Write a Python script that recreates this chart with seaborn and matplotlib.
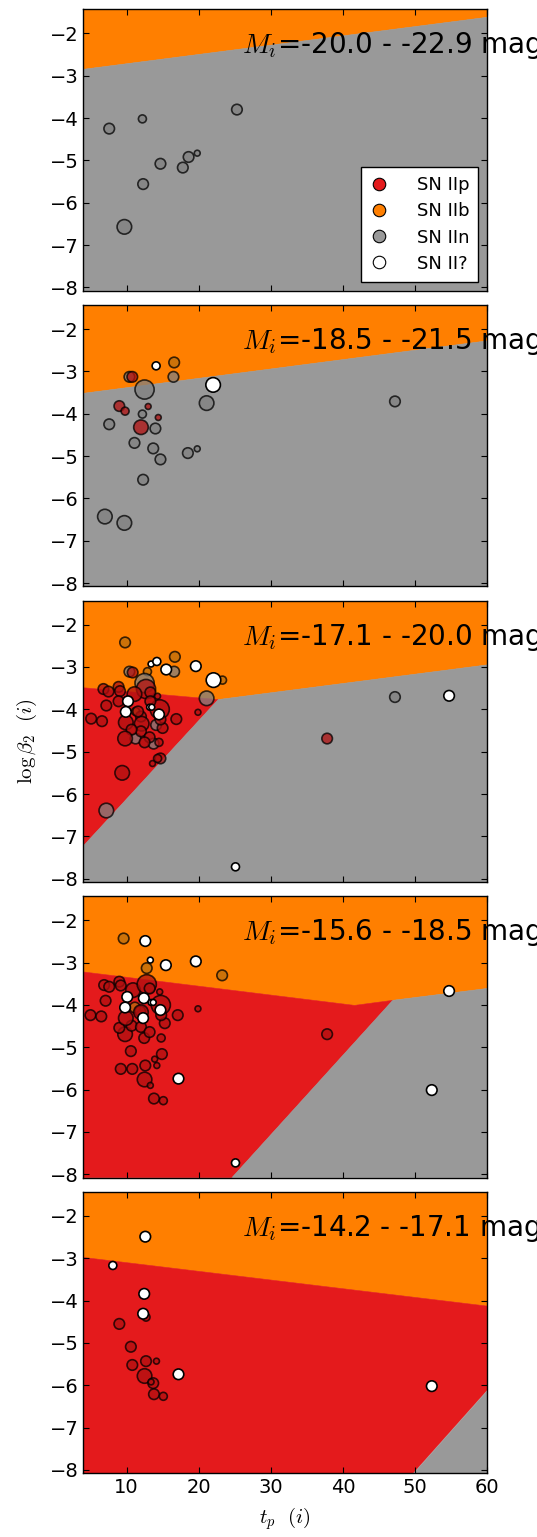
import pandas as pd
from matplotlib import pyplot as plt
from matplotlib.lines import Line2D
import seaborn as sns

# magnitude bins of the five panels
mag_bins = ['-20.0 - -22.9', '-18.5 - -21.5', '-17.1 - -20.0', '-15.6 - -18.5', '-14.2 - -17.1']

# class codes: p = SN IIp, b = SN IIb, n = SN IIn, q = SN II?
# size codes: xs, s, m, l, xl
p1_tp = [7.6, 12.2, 25.3, 9.7, 14.7, 17.8, 18.6, 19.8, 12.3]
p1_logb = [-4.25, -4.02, -3.80, -6.57, -5.08, -5.17, -4.92, -4.83, -5.56]
p1_kind = ['n', 'n', 'n', 'n', 'n', 'n', 'n', 'n', 'n']
p1_size = ['m', 's', 'm', 'l', 'm', 'm', 'm', 'xs', 'm']

p2_tp = [16.6, 16.5, 10.4, 10.8, 12.5, 21.1, 47.2, 9.0, 9.8, 13.0, 12.2, 14.4, 12.0, 14.0,
         7.6, 11.1, 13.7, 14.7, 18.5, 19.8, 12.3, 7.0, 9.7, 14.1, 22.0]
p2_logb = [-2.79, -3.13, -3.13, -3.13, -3.43, -3.75, -3.71, -3.82, -3.94, -3.83, -4.01, -4.09, -4.32, -4.35,
           -4.25, -4.69, -4.82, -5.08, -4.93, -4.83, -5.56, -6.43, -6.58, -2.87, -3.32]
p2_kind = ['b', 'n', 'n', 'p', 'n', 'n', 'n', 'p', 'p', 'p', 'n', 'p', 'p', 'n',
           'n', 'n', 'n', 'n', 'n', 'n', 'n', 'n', 'n', 'q', 'q']
p2_size = ['m', 'm', 'm', 'm', 'xl', 'l', 'm', 'm', 's', 'xs', 's', 'xs', 'l', 'm',
           'm', 'm', 'm', 'm', 'm', 'xs', 'm', 'l', 'l', 's', 'l']

p3_tp = [9.8, 12.9, 16.7, 23.3, 11.25,
         10.4, 16.6, 21.1, 12.5, 11.25, 13.75, 14.1, 7.2, 47.2,
         10.85, 12.7, 13.3, 6.8, 7.5, 8.9, 9.1, 8.9, 7.2, 11.1, 5.1, 6.6, 12.0, 9.9, 12.1,
         12.0, 10.7, 9.8, 13.2, 12.5, 14.5, 14.6, 14.3, 15.0, 14.7, 16.9, 19.9, 14.7, 14.3,
         13.6, 9.4, 37.8, 13.3, 11.6,
         13.4, 14.2, 15.5, 19.6, 22.05, 10.2, 9.9, 14.5, 13.2, 13.5, 25.1, 54.7]
p3_logb = [-2.42, -3.11, -2.76, -3.31, -4.05,
           -3.11, -3.11, -3.74, -3.38, -4.69, -4.81, -4.37, -6.39, -3.71,
           -3.13, -3.52, -3.60, -3.52, -3.58, -3.47, -3.57, -3.81, -3.91, -3.64, -4.22, -4.28, -4.17, -4.31, -4.34,
           -4.52, -4.48, -4.69, -4.66, -4.78, -4.78, -4.00, -3.69, -4.44, -4.24, -4.23, -4.07, -5.16, -5.16,
           -5.28, -5.50, -4.69, -3.81, -4.05,
           -2.93, -2.87, -3.06, -2.98, -3.31, -3.81, -4.06, -4.12, -3.95, -3.95, -7.72, -3.68]
p3_kind = ['b'] * 5 + ['n'] * 9 + ['p'] * 34 + ['q'] * 12
p3_size = ['m', 's', 'm', 's', 's',
           'm', 'm', 'l', 'xl', 'm', 'm', 'm', 'l', 'm',
           'm', 'xl', 'm', 'm', 'm', 'm', 'm', 'm', 'm', 'l', 'm', 'm', 'm', 'l', 'l',
           'm', 'm', 'l', 'm', 'm', 's', 'xl', 'xs', 'm', 'm', 'm', 'xs', 'm', 's',
           'xs', 'l', 'm', 'm', 'm',
           'xs', 's', 'm', 'm', 'l', 'm', 'm', 'm', 'xs', 'xs', 's', 'm']

p4_tp = [9.6, 12.8, 23.25, 11.15,
         37.8, 12.5, 13.3, 13.8, 15.1, 9.2, 10.8, 12.6, 10.6, 14.9, 14.2, 13.9, 9.8, 9.0, 10.7,
         12.0, 12.45, 13.2, 14.8, 15.3, 17.1, 5.0, 6.5, 7.1, 6.9, 7.6, 9.0, 9.2, 10.9, 12.8,
         13.2, 14.75, 9.9, 11.9, 14.6, 19.9, 14.8, 12.0,
         12.6, 13.3, 15.45, 19.6, 54.7, 52.3, 25.1, 17.2, 10.1, 12.4, 9.8, 12.3, 14.7, 13.4, 13.7]
p4_logb = [-2.43, -3.13, -3.30, -4.06,
           -4.69, -5.76, -5.90, -6.21, -6.26, -5.51, -5.51, -5.43, -5.09, -5.16, -5.43, -5.28, -4.69, -4.54, -4.49,
           -4.52, -4.78, -4.64, -4.78, -4.43, -4.24, -4.24, -4.27, -3.90, -3.53, -3.57, -3.45, -3.54, -3.65, -3.51,
           -3.61, -4.00, -4.31, -4.15, -3.69, -4.09, -4.24, -4.17,
           -2.49, -2.94, -3.06, -2.97, -3.67, -6.01, -7.73, -5.74, -3.81, -3.84, -4.06, -4.31, -4.12, -3.94, -3.94]
p4_kind = ['b'] * 4 + ['p'] * 38 + ['q'] * 15
p4_size = ['m', 'm', 'm', 'm',
           'm', 'l', 'xs', 'm', 's', 'm', 'm', 'm', 'm', 'm', 'xs', 'xs', 'l', 'm', 'm',
           'm', 'm', 'm', 's', 'm', 'm', 'm', 'm', 'm', 'm', 'm', 'm', 'm', 'l', 'xl',
           'm', 'xl', 'l', 'm', 'xs', 'xs', 'm', 'l',
           'm', 'xs', 'm', 'm', 'm', 'm', 's', 'm', 'm', 'm', 'm', 'm', 'm', 'xs', 'xs']

p5_tp = [12.7, 9.0, 10.6, 10.8, 12.7, 14.15, 12.5, 13.7, 13.4, 13.8, 15.1,
         12.6, 8.1, 12.45, 12.3, 17.2, 52.3]
p5_logb = [-4.39, -4.55, -5.09, -5.52, -5.43, -5.43, -5.78, -5.95, -5.92, -6.21, -6.26,
           -2.49, -3.17, -3.84, -4.31, -5.74, -6.02]
p5_kind = ['p'] * 11 + ['q'] * 6
p5_size = ['s', 'm', 'm', 'm', 'm', 'xs', 'l', 'm', 'xs', 'm', 's',
           'm', 's', 'm', 'm', 'm', 'm']

panels = [(p1_tp, p1_logb, p1_kind, p1_size), (p2_tp, p2_logb, p2_kind, p2_size),
          (p3_tp, p3_logb, p3_kind, p3_size), (p4_tp, p4_logb, p4_kind, p4_size),
          (p5_tp, p5_logb, p5_kind, p5_size)]

# classification regions (tp, logb vertices) for each panel
x_lo, x_hi = 4, 60
y_lo, y_hi = -8.08, -1.43
regions = [
    {'orange': [(4, -2.85), (60, -1.62), (60, y_hi), (4, y_hi)],
     'gray': [(4, -2.85), (60, -1.62), (60, y_lo), (4, y_lo)]},
    {'orange': [(4, -3.52), (60, -2.28), (60, y_hi), (4, y_hi)],
     'gray': [(4, -3.52), (60, -2.28), (60, y_lo), (4, y_lo)]},
    {'orange': [(4, -3.49), (22.7, -3.77), (60, -2.95), (60, y_hi), (4, y_hi)],
     'red': [(4, -3.49), (22.7, -3.77), (4, -7.23)],
     'gray': [(4, -7.23), (22.7, -3.77), (60, -2.95), (60, y_lo), (4, y_lo)]},
    {'orange': [(4, -3.22), (41.6, -4.01), (46.9, -3.89), (60, -3.61), (60, y_hi), (4, y_hi)],
     'red': [(4, -3.22), (41.6, -4.01), (46.9, -3.89), (24.6, y_lo), (4, y_lo)],
     'gray': [(46.9, -3.89), (60, -3.61), (60, y_lo), (24.6, y_lo)]},
    {'orange': [(4, -2.98), (60, -4.13), (60, y_hi), (4, y_hi)],
     'red': [(4, -2.98), (60, -4.13), (60, -6.11), (49.7, y_lo), (4, y_lo)],
     'gray': [(60, -6.11), (60, y_lo), (49.7, y_lo)]},
]

kind_names = {'p': 'SN IIp', 'b': 'SN IIb', 'n': 'SN IIn', 'q': 'SN II?'}
region_colors = {'red': '#e41a1c', 'orange': '#ff7f00', 'gray': '#999999'}
legend_colors = {'SN IIp': '#e41a1c', 'SN IIb': '#ff7f00', 'SN IIn': '#999999', 'SN II?': 'white'}
point_colors = {'SN IIp': '#b01010', 'SN IIb': '#bc6e0d', 'SN IIn': '#808080', 'SN II?': 'white'}
size_areas = {'xs': 18, 's': 33, 'm': 58, 'l': 110, 'xl': 190}

sns.set_style('ticks')
plt.rcParams['font.family'] = ['DejaVu Sans']
plt.rcParams['mathtext.fontset'] = 'cm'
plt.rcParams['text.color'] = 'black'
plt.rcParams['axes.labelcolor'] = 'black'
plt.rcParams['xtick.color'] = 'black'
plt.rcParams['ytick.color'] = 'black'

fig, axes = plt.subplots(5, 1, figsize=(5.37, 15.37), sharex=True)
plt.subplots_adjust(left=0.155, right=0.9075, top=0.994, bottom=0.0414, hspace=0.05)

for i, ax in enumerate(axes):
    for name, verts in regions[i].items():
        xs = [v[0] for v in verts]
        ys = [v[1] for v in verts]
        ax.fill(xs, ys, color=region_colors[name], lw=0.4, zorder=0.5)

    tp, logb, kind, size = panels[i]
    df = pd.DataFrame({'tp': tp, 'logb': logb,
                       'sn': [kind_names[k] for k in kind], 'size': size})
    coloured = df[df.sn != 'SN II?']
    unknown = df[df.sn == 'SN II?']
    if len(coloured) > 0:
        sns.scatterplot(data=coloured, x='tp', y='logb', hue='sn', palette=point_colors,
                        size='size', sizes=size_areas, alpha=0.75, edgecolor='black',
                        linewidth=1.2, legend=False, ax=ax, zorder=2)
    if len(unknown) > 0:
        sns.scatterplot(data=unknown, x='tp', y='logb', hue='sn', palette=point_colors,
                        size='size', sizes=size_areas, alpha=1, edgecolor='black',
                        linewidth=1.2, legend=False, ax=ax, zorder=3)

    ax.set_xlim(x_lo, x_hi)
    ax.set_ylim(y_lo, y_hi)
    ax.set_yticks([-2, -3, -4, -5, -6, -7, -8])
    ax.set_xticks([10, 20, 30, 40, 50, 60])
    ax.tick_params(direction='in', top=True, right=True, length=4, width=0.8,
                   labelsize=14, pad=3)
    for sp in ax.spines.values():
        sp.set_linewidth(1.0)
        sp.set_color('black')
    ax.set_xlabel('')
    ax.set_ylabel('')
    ax.text(26, -2.47, r'$M_i$=' + mag_bins[i] + ' mag', fontsize=20, va='baseline',
            ha='left', clip_on=False)

handles = [Line2D([], [], marker='o', ls='', markerfacecolor=legend_colors[k],
                  markeredgecolor='black', markeredgewidth=0.8, markersize=9, label=k)
           for k in ['SN IIp', 'SN IIb', 'SN IIn', 'SN II?']]
leg = axes[0].legend(handles=handles, loc='lower right', fontsize=13, frameon=True,
                     fancybox=False, framealpha=1, edgecolor='black',
                     handlelength=1.0, handletextpad=1.6, borderpad=0.5, labelspacing=0.45)
leg.get_frame().set_linewidth(1.0)

axes[2].set_ylabel(r'$\log\beta_2\ \ (i)$', fontsize=15, labelpad=8)
axes[4].set_xlabel(r'$t_p\ \ (i)$', fontsize=15, labelpad=6)

plt.savefig('out.png', dpi=100)
